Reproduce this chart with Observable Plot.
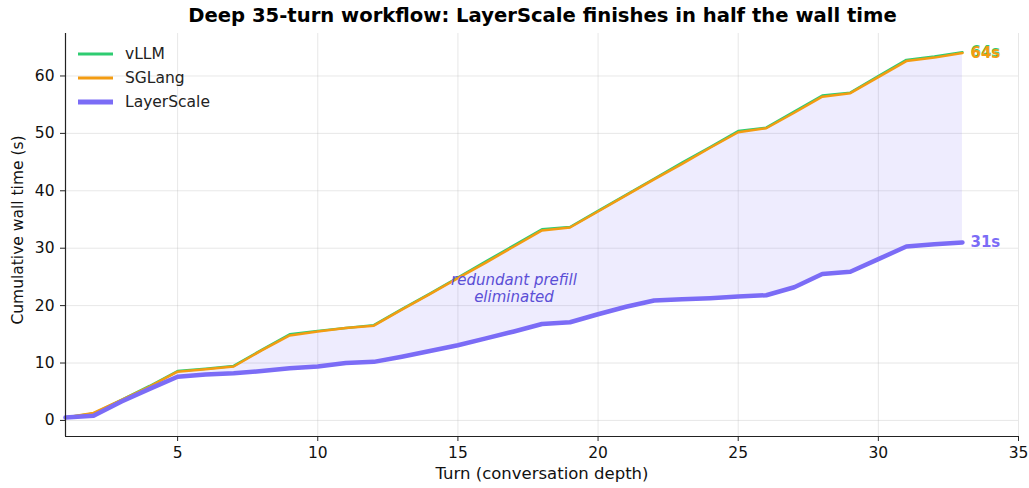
<!DOCTYPE html>
<html>
<head>
<meta charset="utf-8">
<script src="https://cdn.jsdelivr.net/npm/d3@7"></script>
<script src="https://cdn.jsdelivr.net/npm/@observablehq/plot@0.6"></script>
<style>
  html, body { margin: 0; padding: 0; background: #fff; }
  body { font-family: "DejaVu Sans", sans-serif; width: 1029px; height: 488px; position: relative; overflow: hidden; }
  #title { height: 26px; line-height: 32px; text-align: center; font-weight: bold; font-size: 19.6px; color: #000; padding-left: 56px; box-sizing: border-box; white-space: nowrap; }
  #legend { position: absolute; left: 77px; top: 42px; font-size: 15.5px; color: #222; }
  #legend .row { display: flex; align-items: center; height: 24px; }
  #legend svg { margin-right: 12px; }
</style>
</head>
<body>
<div id="title">Deep 35-turn workflow: LayerScale finishes in half the wall time</div>
<div id="chart"></div>
<div id="legend"></div>
<script>
const turns = [1,2,3,4,5,6,7,8,9,10,11,12,13,14,15,16,17,18,19,20,21,22,23,24,25,26,27,28,29,30,31,32,33];
const vllm = [0.5, 1.2, 3.6, 6.0, 8.6, 9.0, 9.5, 12.3, 15.0, 15.6, 16.1, 16.6, 19.4, 22.1, 24.9, 27.7, 30.5, 33.3, 33.7, 36.5, 39.3, 42.1, 44.9, 47.6, 50.4, 51.0, 53.8, 56.6, 57.1, 60.0, 62.8, 63.4, 64.15];
const sglang = [0.5, 1.3, 3.6, 5.9, 8.5, 8.9, 9.4, 12.2, 14.8, 15.5, 16.1, 16.5, 19.3, 22.0, 24.8, 27.5, 30.3, 33.1, 33.6, 36.4, 39.2, 42.0, 44.7, 47.5, 50.2, 50.9, 53.6, 56.4, 57.0, 59.8, 62.6, 63.2, 64.0];
const layerscale = [0.5, 0.8, 3.3, 5.5, 7.6, 8.0, 8.2, 8.6, 9.1, 9.4, 10.0, 10.2, 11.1, 12.1, 13.1, 14.3, 15.5, 16.8, 17.1, 18.5, 19.8, 20.9, 21.1, 21.3, 21.6, 21.8, 23.2, 25.5, 25.9, 28.1, 30.3, 30.7, 31.0];

const seriesNames = ["vLLM", "SGLang", "LayerScale"];
const seriesColors = ["#2ecc71", "#f39c12", "#7b6cf6"];
const seriesWidths = [2.5, 2.5, 4.5];
const legendWidths = [3, 3, 5];

const xTicks = [5, 10, 15, 20, 25, 30, 35];
const yTicks = [0, 10, 20, 30, 40, 50, 60];
const xDomain = [1, 35];
const yDomain = [-2.8, 67.4];
const xLabel = "Turn (conversation depth)";
const yLabel = "Cumulative wall time (s)";

const annotation = [{turn: 17, value: 23, text: "redundant prefill\neliminated"}];

const seriesValues = [vllm, sglang, layerscale];
const rows = [];
seriesNames.forEach((name, i) => {
  turns.forEach((t, j) => rows.push({series: name, turn: t, value: seriesValues[i][j]}));
});
const band = turns.map((t, j) => ({turn: t, lo: layerscale[j], hi: sglang[j]}));
const ends = seriesNames.map((name, i) => ({
  series: name, turn: turns[turns.length - 1], value: seriesValues[i][turns.length - 1],
  label: Math.round(seriesValues[i][turns.length - 1]) + "s", color: seriesColors[i]
}));

const lineMarks = seriesNames.map((name, i) =>
  Plot.line(rows.filter(d => d.series === name), {
    x: "turn", y: "value", stroke: seriesColors[i], strokeWidth: seriesWidths[i],
    strokeLinejoin: "round", strokeLinecap: "round"
  })
);

const chart = Plot.plot({
  width: 1029,
  height: 462,
  marginLeft: 65,
  marginRight: 11,
  marginTop: 7,
  marginBottom: 52,
  style: {fontFamily: "DejaVu Sans, sans-serif", fontSize: "15px", color: "#111", background: "#fff"},
  x: {domain: xDomain, ticks: xTicks},
  y: {domain: yDomain, ticks: yTicks},
  marks: [
    Plot.gridX(xTicks, {stroke: "#b0b0b0", strokeOpacity: 0.3, strokeWidth: 1}),
    Plot.gridY(yTicks, {stroke: "#b0b0b0", strokeOpacity: 0.3, strokeWidth: 1}),
    Plot.areaY(band, {x: "turn", y1: "lo", y2: "hi", fill: "#7b6cf6", fillOpacity: 0.13}),
    ...lineMarks,
    Plot.text(annotation, {x: "turn", y: "value", text: "text", fill: "#5b4fd6", fontStyle: "italic", fontSize: 15, lineHeight: 1.08}),
    Plot.text(ends, {x: "turn", y: "value", text: "label", fill: "color", dx: 8, textAnchor: "start", fontWeight: "bold", fontSize: 15}),
    Plot.ruleX([xDomain[0]], {stroke: "#222", strokeWidth: 1.2}),
    Plot.ruleY([yDomain[0]], {stroke: "#222", strokeWidth: 1.2}),
    Plot.axisX(xTicks, {tickSize: 5, tickPadding: 5, fontSize: 15.5, stroke: "#222", label: null}),
    Plot.axisY(yTicks, {tickSize: 5, tickPadding: 6, fontSize: 15.5, stroke: "#222", label: null}),
    Plot.text([xLabel], {frameAnchor: "bottom", dy: 42, fontSize: 16.5, fill: "#111"}),
    Plot.text([yLabel], {frameAnchor: "left", textAnchor: "middle", dx: -47, dy: -5, rotate: -90, fontSize: 15.5, fill: "#111"})
  ]
});
document.getElementById("chart").appendChild(chart);

const legend = document.getElementById("legend");
seriesNames.forEach((name, i) => {
  const row = document.createElement("div");
  row.className = "row";
  row.innerHTML = `<svg width="36" height="10"><line x1="1" y1="5" x2="36" y2="5" stroke="${seriesColors[i]}" stroke-width="${legendWidths[i]}"/></svg><span>${name}</span>`;
  legend.appendChild(row);
});
</script>
</body>
</html>
